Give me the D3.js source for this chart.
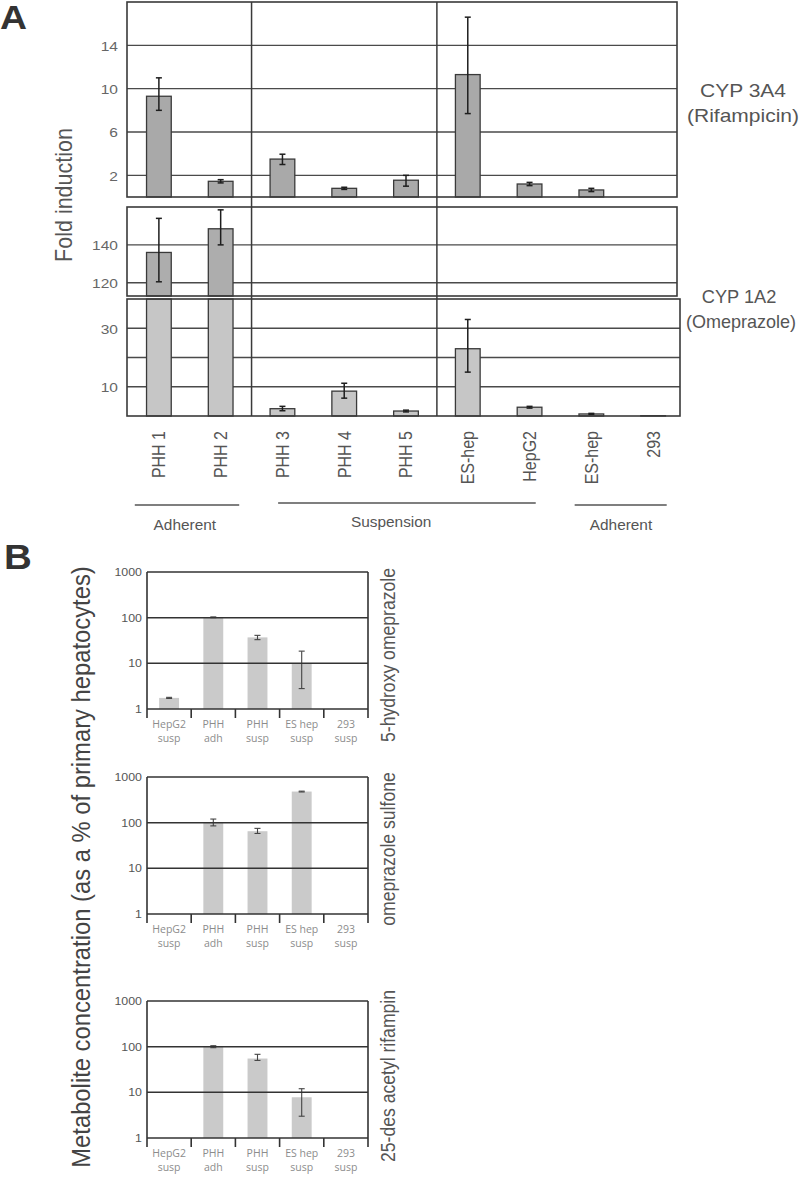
<!DOCTYPE html>
<html><head><meta charset="utf-8">
<script src="https://cdn.jsdelivr.net/npm/d3@7"></script>
<style>body{margin:0;background:#fff} svg{display:block}</style>
</head><body><svg id="c" width="799" height="1199"></svg>
<script>
// ---------- DATA ----------
const catsA = ["PHH 1","PHH 2","PHH 3","PHH 4","PHH 5","ES-hep","HepG2","ES-hep","293"];
const cyp3a4   = [9.3, 1.45, 3.5, 0.8, 1.55, 11.3, 1.2, 0.65, 0];
const cyp3a4Lo = [8.0, 1.3, 3.0, 0.7, 1.0, 7.7, 1.05, 0.5, null];
const cyp3a4Hi = [11.0, 1.6, 3.95, 0.9, 2.0, 16.6, 1.35, 0.8, null];
const cyp1a2   = [136, 148.5, 2.5, 8.5, 1.7, 23, 3.0, 0.7, 0.1];
const cyp1a2Lo = [120.5, 140, 1.8, 6.1, 1.4, 15, 2.7, 0.5, null];
const cyp1a2Hi = [154, 158.5, 3.3, 11.2, 2.0, 33, 3.3, 0.9, null];
const ticks3a4 = [2, 6, 10, 14];
const ticks1a2High = [120, 140];
const ticks1a2Low = [10, 30];
const grid1a2Low = [10, 20, 30];
const groupLabels = ["Adherent", "Suspension", "Adherent"];
const groupStart = [-0.39, 1.93, 6.73];   // in category units
const groupEnd   = [1.30, 6.10, 8.22];
const groupAt    = [0.42, 3.76, 7.48];

const catsB1 = ["HepG2", "PHH", "PHH", "ES hep", "293"];
const catsB2 = ["susp", "adh", "susp", "susp", "susp"];
const ticksB = [1, 10, 100, 1000];
const hydroxy   = [1.75, 100, 37, 10, null];
const hydroxyLo = [1.7, 100, 33, 2.8, null];
const hydroxyHi = [1.8, 104, 41, 18.5, null];
const sulfone   = [null, 100, 65, 480, null];
const sulfoneLo = [null, 85, 58, 470, null];
const sulfoneHi = [null, 120, 75, 490, null];
const acetyl    = [null, 100, 55, 7.8, null];
const acetylLo  = [null, 95, 50, 3, null];
const acetylHi  = [null, 105, 68, 12, null];
const seriesNamesB = ["5-hydroxy omeprazole", "omeprazole sulfone", "25-des acetyl rifampin"];

// ---------- HELPERS ----------
const svg = d3.select("#c");
const FF = "'Liberation Sans', Arial, Helvetica, sans-serif";
function txt(g, x, y, s, o = {}) {
  const t = g.append("text")
    .attr("transform", `translate(${x},${y}) scale(${o.sx || 1},1)` + (o.rot ? ` rotate(${o.rot})` : ""))
    .attr("font-family", o.ff || FF)
    .attr("font-size", o.fs || 14)
    .attr("fill", o.fill || "#555")
    .attr("text-anchor", o.anchor || "start")
    .attr("font-weight", o.fw || "normal")
    .text(s);
  if (o.dy) t.attr("dy", o.dy);
  return t;
}
function hline(g, x1, x2, y, c, w) {
  g.append("line").attr("x1", x1).attr("x2", x2).attr("y1", y).attr("y2", y)
    .attr("stroke", c).attr("stroke-width", w);
}
function vline(g, x, y1, y2, c, w) {
  g.append("line").attr("x1", x).attr("x2", x).attr("y1", y1).attr("y2", y2)
    .attr("stroke", c).attr("stroke-width", w);
}
function errbar(g, x, y1, y2, c, w, cap) {
  vline(g, x, y1, y2, c, w);
  hline(g, x - cap / 2, x + cap / 2, y1, c, w);
  hline(g, x - cap / 2, x + cap / 2, y2, c, w);
}

// ---------- PANEL A ----------
const gA = svg.append("g");
const xA = d3.scaleBand().domain(d3.range(catsA.length)).range([128, 684]).paddingInner(0.6).paddingOuter(0.3);
const bwA = xA.bandwidth();
const cx = i => xA(i) + bwA / 2;
const xCat = d3.scaleLinear().domain([0, 1]).range([cx(0), cx(1)]);
const L = 127, R = 677;
const frameC = "#3a3a3a", gridC = "#4a4a4a";

// top panel CYP3A4
const yTop = d3.scaleLinear().domain([0, 18]).range([197, 2]);
ticks3a4.forEach(t => hline(gA, L, R, yTop(t), gridC, 1.3));
cyp3a4.forEach((v, i) => {
  if (!v) return;
  gA.append("rect").attr("x", xA(i)).attr("width", bwA)
    .attr("y", yTop(v)).attr("height", yTop(0) - yTop(v))
    .attr("fill", "#a9a9a9").attr("stroke", "#3a3a3a").attr("stroke-width", 1.3);
  if (cyp3a4Lo[i] != null) errbar(gA, cx(i), yTop(cyp3a4Hi[i]), yTop(cyp3a4Lo[i]), "#1e1e1e", 1.5, 6);
});
gA.append("rect").attr("x", L).attr("y", yTop(18)).attr("width", R - L).attr("height", yTop(0) - yTop(18))
  .attr("fill", "none").attr("stroke", frameC).attr("stroke-width", 1.6);
ticks3a4.forEach(t => txt(gA, 118, yTop(t), t, { fs: 13.5, sx: 1.15, anchor: "end", dy: "0.4em", fill: "#666" }));

// middle panel CYP1A2 (high values)
const yMid = d3.scaleLinear().domain([113, 160]).range([296, 207]);
ticks1a2High.forEach(t => hline(gA, L, R, yMid(t), gridC, 1.3));
cyp1a2.forEach((v, i) => {
  if (v <= 113) return;
  gA.append("rect").attr("x", xA(i)).attr("width", bwA)
    .attr("y", yMid(v)).attr("height", yMid(113) - yMid(v))
    .attr("fill", "#adadad").attr("stroke", "#3a3a3a").attr("stroke-width", 1.3);
  errbar(gA, cx(i), yMid(cyp1a2Hi[i]), yMid(cyp1a2Lo[i]), "#1e1e1e", 1.5, 6);
});
gA.append("rect").attr("x", L).attr("y", yMid(160)).attr("width", R - L).attr("height", yMid(113) - yMid(160))
  .attr("fill", "none").attr("stroke", frameC).attr("stroke-width", 1.6);
ticks1a2High.forEach(t => txt(gA, 118, yMid(t), t, { fs: 13.5, sx: 1.15, anchor: "end", dy: "0.4em", fill: "#666" }));

// lower panel CYP1A2 (low values)
const yLow = d3.scaleLinear().domain([0, 40]).range([416, 299]);
const R2 = 680;
grid1a2Low.forEach(t => hline(gA, L, R2, yLow(t), gridC, 1.3));
cyp1a2.forEach((v, i) => {
  if (!v) return;
  const vv = Math.min(v, 40);
  gA.append("rect").attr("x", xA(i)).attr("width", bwA)
    .attr("y", yLow(vv)).attr("height", yLow(0) - yLow(vv))
    .attr("fill", "#c6c6c6").attr("stroke", "#3a3a3a").attr("stroke-width", 1.3);
  if (v <= 40 && cyp1a2Lo[i] != null) errbar(gA, cx(i), yLow(cyp1a2Hi[i]), yLow(cyp1a2Lo[i]), "#1e1e1e", 1.5, 6);
});
gA.append("rect").attr("x", L).attr("y", yLow(40)).attr("width", R2 - L).attr("height", yLow(0) - yLow(40))
  .attr("fill", "none").attr("stroke", frameC).attr("stroke-width", 1.6);
ticks1a2Low.forEach(t => txt(gA, 118, yLow(t), t, { fs: 13.5, sx: 1.15, anchor: "end", dy: "0.4em", fill: "#666" }));

// dividers
[2, 5].forEach(i => {
  const x = (xA(i - 1) + bwA + xA(i)) / 2;
  vline(gA, x, yTop(18), yLow(0), frameC, 1.5);
});

// category labels
catsA.forEach((c, i) => txt(gA, cx(i), 431, c, { fs: 16, sx: 1.15, rot: -90, anchor: "end", dy: "0.35em", fill: "#555" }));

// groups
const groupLineY = [505, 503, 505], groupTextY = [530, 527, 530];
groupLabels.forEach((g, k) => {
  hline(gA, xCat(groupStart[k]), xCat(groupEnd[k]), groupLineY[k], "#555", 1.6);
  txt(gA, xCat(groupAt[k]), groupTextY[k], g, { fs: 14, sx: 1.1, anchor: "middle", fill: "#555" });
});

// side labels
txt(gA, 743, 97, "CYP 3A4", { fs: 17.5, sx: 1.2, anchor: "middle", fill: "#555" });
txt(gA, 743, 122, "(Rifampicin)", { fs: 17.5, sx: 1.2, anchor: "middle", fill: "#555" });
txt(gA, 739, 303, "CYP 1A2", { fs: 17.5, sx: 1.04, anchor: "middle", fill: "#555" });
txt(gA, 741, 328, "(Omeprazole)", { fs: 17.5, sx: 1.03, anchor: "middle", fill: "#555" });
txt(gA, 64, 195, "Fold induction", { fs: 21.5, sx: 1.12, rot: -90, anchor: "middle", dy: "0.35em", fill: "#555" });
txt(gA, 0, 29, "A", { fs: 34, sx: 1.1, fw: "bold", fill: "#333" });

// ---------- PANEL B ----------
const gB = svg.append("g");
const xB = d3.scaleBand().domain(d3.range(catsB1.length)).range([147, 368]).paddingInner(0.55).paddingOuter(0.275);
const bwB = xB.bandwidth(), stepB = xB.step();
const cxB = i => xB(i) + bwB / 2;
const seriesB = [
  { v: hydroxy, lo: hydroxyLo, hi: hydroxyHi },
  { v: sulfone, lo: sulfoneLo, hi: sulfoneHi },
  { v: acetyl, lo: acetylLo, hi: acetylHi }
];
const topsB = [572, 777, 1001];
const labelCY = [655, 849, 1076];
seriesB.forEach((s, k) => {
  const top = topsB[k], bot = top + 137;
  const y = d3.scaleLog().domain([1, 1000]).range([bot, top]);
  const BL = 147, BR = 368;
  s.v.forEach((v, i) => {
    if (v == null) return;
    gB.append("rect").attr("x", xB(i)).attr("width", bwB)
      .attr("y", y(v)).attr("height", y(1) - y(v)).attr("fill", "#cacaca");
    if (s.lo[i] != null) errbar(gB, cxB(i), y(s.hi[i]), y(s.lo[i]), "#444", 1.1, 6);
  });
  [10, 100, 1000].forEach(t => hline(gB, BL, BR, y(t), "#333", 1.5));
  hline(gB, BL, BR, y(1), "#333", 1.6);
  vline(gB, BL, top, bot + 9, "#333", 1.6);
  vline(gB, BR, top, bot + 9, "#333", 1.6);
  d3.range(1, catsB1.length).forEach(i => {
    const x = xB(i) - (stepB - bwB) / 2;
    vline(gB, x, bot, bot + 9, "#333", 1.6);
  });
  ticksB.forEach(t => txt(gB, 142, y(t), t, { fs: 10.5, sx: 1.18, anchor: "end", dy: "0.38em", fill: "#555" }));
  catsB1.forEach((c, i) => {
    txt(gB, cxB(i), bot + 19, c, { ff: "'Open Sans', 'Noto Sans', sans-serif", fs: 10.5, anchor: "middle", fill: "#8c8c8c" });
    txt(gB, cxB(i), bot + 33, catsB2[i], { ff: "'Open Sans', 'Noto Sans', sans-serif", fs: 10.5, anchor: "middle", fill: "#8c8c8c" });
  });
  txt(gB, 388, labelCY[k], seriesNamesB[k], { fs: 17.6, sx: 1.15, rot: -90, anchor: "middle", dy: "0.35em", fill: "#555" });
});
txt(gB, 81, 867, "Metabolite concentration (as a % of primary hepatocytes)", { fs: 23.8, sx: 1.1, rot: -90, anchor: "middle", dy: "0.35em", fill: "#444" });
txt(gB, 4, 569, "B", { fs: 35, sx: 1.1, fw: "bold", fill: "#333" });
</script></body></html>
